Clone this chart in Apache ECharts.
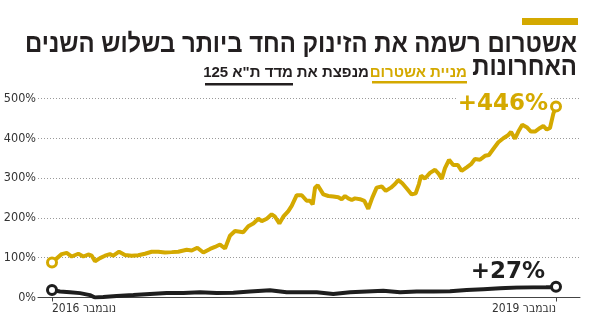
<!DOCTYPE html>
<html><head><meta charset="utf-8">
<script src="https://cdn.jsdelivr.net/npm/echarts@6/dist/echarts.min.js"></script>
<style>html,body{margin:0;padding:0;background:#fff}#c{width:590px;height:333px}</style>
</head><body><div id="c"></div>
<script>
// months since November 2016
const yellowMonths = [0,0.69,1.05,1.41,1.88,2.24,2.59,2.84,3.07,3.43,3.79,4.14,4.38,4.79,5.21,5.69,6.16,6.64,7.12,7.59,8.07,8.55,9.02,9.14,9.62,9.98,10.38,10.81,11.29,11.64,12.0,12.36,12.71,13.07,13.31,13.66,14.02,14.38,14.74,14.98,15.34,15.69,15.93,16.24,16.52,16.88,17.12,17.48,17.84,18.19,18.43,18.62,18.79,18.98,19.38,19.74,20.09,20.45,20.69,20.93,21.16,21.41,21.64,22.0,22.31,22.59,22.88,23.19,23.55,23.84,24.21,24.5,24.74,25.02,25.34,25.69,25.98,26.21,26.36,26.64,27.0,27.36,27.64,27.84,28.07,28.36,28.66,28.98,29.26,29.62,29.93,30.21,30.57,30.93,31.21,31.52,31.88,32.24,32.55,32.79,33.07,33.31,33.59,33.91,34.21,34.5,34.86,35.09,35.34,35.57,35.81,36];
const yellowValues = [88,109,112,103,110,103,108,105,91,99,105,109,105,115,107,105,106,110,115,115,113,114,115,116,120,118,125,113,122,127,133,123,155,167,166,164,179,186,198,192,198,209,203,186,203,217,230,257,257,243,243,234,276,282,259,255,254,252,247,255,249,245,249,247,243,223,251,276,279,268,276,285,295,287,274,259,262,285,306,299,313,321,310,298,325,346,333,333,318,327,335,348,346,356,358,373,390,400,407,416,399,417,434,428,417,417,426,431,422,426,462,480];
const blackMonths = [0,0.57,1.29,2.0,2.71,3.07,3.66,4.62,5.81,7.0,8.19,9.38,10.57,11.76,12.95,14.14,15.57,16.76,17.71,18.91,20.09,21.29,22.48,23.66,24.86,26.05,27.24,28.43,29.62,30.81,32.0,33.19,34.38,35.57,36];
const blackValues = [19,15,13,11,6,0,1,4,6,9,11,11,13,11,12,15,18,13,13,13,9,13,15,17,13,15,15,16,19,21,23,25,26,26,27];
const yTicks = [0,100,200,300,400,500];
const xTickMonths = [0,36];
const xTickLabels = ['נובמבר 2016','נובמבר 2019'];
const yellowChange = '+446%';
const blackChange = '+27%';
const titleLine1 = 'אשטרום רשמה את הזינוק החד ביותר בשלוש השנים';
const titleLine2 = 'האחרונות';
const subYellow = 'מניית אשטרום';
const subMid = 'מנפצת את';
const subBlack = 'מדד ת"א 125';

const YEL = '#D4A900', BLK = '#1E1E1E', INK = '#231F20';
const pairs = (xs, ys) => xs.map((x, i) => [x, ys[i]]);
const ends = (xs, ys) => [[xs[0], ys[0]], [xs[xs.length-1], ys[ys.length-1]]];

// fit title line 1 into its 552px width
const TITLE_FONT = 'bold 25px "Liberation Sans"';
const mctx = document.createElement('canvas').getContext('2d');
mctx.font = TITLE_FONT;
const titleScale = 552 / mctx.measureText(titleLine1).width;

const chart = echarts.init(document.getElementById('c'), null, {renderer:'canvas'});
const endLabel = (txt, color, offset, dist) => ({show:true, position:'left', distance:dist, offset: offset, formatter: txt, opacity:1,
  color: color, fontSize: 23, fontWeight: 'bold', fontFamily: 'DejaVu Sans', backgroundColor:'#fff', padding:[3,1,1,1]});

chart.setOption({
  animation:false,
  grid:{left:38, right:10, top:98.5, bottom:35.5, containLabel:false},
  xAxis:{type:'value', min:-1, max:37.714,
    axisLine:{show:true, onZero:false, lineStyle:{color:'#444', width:1}},
    axisTick:{show:true, customValues:xTickMonths, length:4, lineStyle:{color:'#444'}},
    axisLabel:{show:true, customValues:xTickMonths, formatter:(v)=>xTickLabels[xTickMonths.indexOf(v)] || '',
      alignMinLabel:'left', alignMaxLabel:'right',
      fontFamily:'DejaVu Sans Condensed', fontSize:12, color:'#333', margin:5},
    splitLine:{show:false}},
  yAxis:{type:'value', min:0, max:500, interval:100,
    axisLine:{show:false}, axisTick:{show:false},
    axisLabel:{formatter:'{value}%', fontFamily:'DejaVu Sans Condensed', fontSize:12.5, color:'#333', margin:2},
    splitLine:{show:true, lineStyle:{color:'#9a9a9a', type:[1,2], width:1}}},
  series:[
    {type:'line', data:pairs(blackMonths, blackValues), symbol:'none', lineStyle:{color:BLK, width:4}, z:3},
    {type:'line', data:pairs(yellowMonths, yellowValues), symbol:'none', lineStyle:{color:YEL, width:4}, z:4},
    {type:'scatter', data:ends(blackMonths, blackValues).map((d,i)=>({value:d, label: i===1 ? endLabel(blackChange, BLK, [0,-15], 4) : {show:false}})),
      symbol:'circle', symbolSize:9, itemStyle:{color:'#fff', borderColor:BLK, borderWidth:3, opacity:1}, z:6},
    {type:'scatter', data:ends(yellowMonths, yellowValues).map((d,i)=>({value:d, label: i===1 ? endLabel(yellowChange, YEL, [0,-2], 1) : {show:false}})),
      symbol:'circle', symbolSize:9, itemStyle:{color:'#fff', borderColor:YEL, borderWidth:3, opacity:1}, z:7}
  ],
  graphic:[
    {type:'rect', shape:{x:522, y:18, width:56, height:7}, style:{fill:YEL}},
    {type:'text', x:577, y:45, scaleX:titleScale, scaleY:1.06, style:{text:titleLine1, align:'right', verticalAlign:'middle', font:TITLE_FONT, fill:INK}},
    {type:'text', x:577, y:68, scaleX:titleScale, scaleY:1.06, style:{text:titleLine2, align:'right', verticalAlign:'middle', font:TITLE_FONT, fill:INK}},
    {type:'text', x:467, y:73, style:{text:subYellow, align:'right', verticalAlign:'middle', font:'bold 15px "Liberation Sans"', fill:YEL}},
    {type:'text', x:369, y:73, style:{text:subMid, align:'right', verticalAlign:'middle', font:'bold 15px "Liberation Sans"', fill:INK}},
    {type:'text', x:293, y:73, style:{text:subBlack, align:'right', verticalAlign:'middle', font:'bold 15px "Liberation Sans"', fill:INK}},
    {type:'rect', shape:{x:372, y:81, width:95, height:2.5}, style:{fill:YEL}},
    {type:'rect', shape:{x:205, y:83, width:88, height:2.5}, style:{fill:INK}}
  ]
});
</script></body></html>
